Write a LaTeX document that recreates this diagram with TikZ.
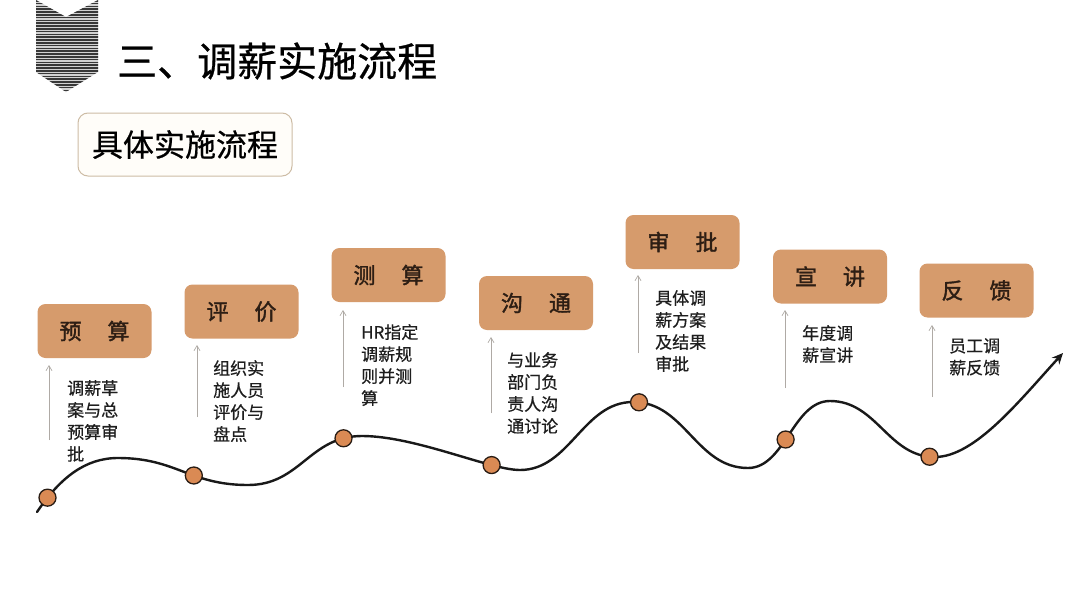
\documentclass[tikz,border=0pt]{standalone}
\usepackage{fontspec}
\setmainfont{Noto Sans CJK SC}
\newfontfamily\semib[FakeBold=1.6]{Noto Sans CJK SC}
\newfontfamily\lightb[FakeBold=0.6]{Noto Sans CJK SC}
\usetikzlibrary{arrows.meta}
\definecolor{boxtan}{RGB}{214,155,108}
\definecolor{dotfill}{RGB}{218,138,84}
\definecolor{dotline}{RGB}{40,28,20}
\definecolor{subline}{RGB}{205,188,165}
\definecolor{subfill}{RGB}{255,253,249}
\definecolor{arrowgray}{RGB}{175,170,165}
\definecolor{txt}{RGB}{30,30,30}
\definecolor{boxtxt}{RGB}{45,30,20}
\tikzset{
  stagebox/.style={fill=boxtan, rounded corners=8pt, minimum width=114pt, minimum height=54pt, inner sep=0pt, text=boxtxt, font=\semib\fontsize{22}{24}\selectfont},
  desc/.style={anchor=north west, inner sep=0pt, align=left, text=txt, font=\lightb\fontsize{17}{22}\selectfont},
  uparrow/.style={draw=arrowgray, line width=0.7pt, -{Straight Barb[length=5pt,width=6pt]}},
  dot/.style={circle, fill=dotfill, draw=dotline, line width=1.3pt, minimum size=17pt, inner sep=0pt},
  curveline/.style={line width=2.4pt, draw=black!90, line cap=round}
}
\newcommand{\gp}{\hspace{26pt}}
\begin{document}
\begin{tikzpicture}[x=1pt,y=-1pt]
\useasboundingbox (0,0) rectangle (1080,608);
\fill[white] (0,0) rectangle (1080,608);
% chevron icon
\begin{scope}
\clip (36,0) -- (66,17) -- (98,0) -- (98,72) -- (66,92) -- (36,72) -- cycle;
\fill[gray!35] (30,0) rectangle (100,95);
\foreach \yy in {0.8,3.6,...,94} {
  \draw[black!78, line width=1.6pt] (30,\yy) -- (100,\yy);
}
\end{scope}
% title
\node[anchor=west, inner sep=0pt, text=black, font=\lightb\fontsize{40}{44}\selectfont] (title) at (117,61) {三、调薪实施流程};
% subtitle box
\node[draw=subline, fill=subfill, line width=1pt, rounded corners=10pt, minimum width=214pt, minimum height=63pt, inner sep=0pt, font=\lightb\fontsize{31}{34}\selectfont, text=black] (sub) at (185,144.5) {具体实施流程};
% stage boxes
\node[stagebox] (b1) at (94.5,331) {预\gp 算};
\node[stagebox] (b2) at (241.5,311.5) {评\gp 价};
\node[stagebox] (b3) at (388.5,275) {测\gp 算};
\node[stagebox] (b4) at (536,303) {沟\gp 通};
\node[stagebox] (b5) at (682.5,242) {审\gp 批};
\node[stagebox] (b6) at (830,276.5) {宣\gp 讲};
\node[stagebox] (b7) at (976.5,290.5) {反\gp 馈};
% arrows
\coordinate (a1s) at (49,440); \coordinate (a1e) at (49,365);
\coordinate (a2s) at (197,417); \coordinate (a2e) at (197,345);
\coordinate (a3s) at (343,387); \coordinate (a3e) at (343,310);
\coordinate (a4s) at (491,413); \coordinate (a4e) at (491,337);
\coordinate (a5s) at (638,353); \coordinate (a5e) at (638,275);
\coordinate (a6s) at (785,388); \coordinate (a6e) at (785,310);
\coordinate (a7s) at (932,397); \coordinate (a7e) at (932,325);
\foreach \i in {1,...,7} { \draw[uparrow] (a\i s) -- (a\i e); }
% descriptions
\node[desc] (t1) at (67,380) {调薪草\\案与总\\预算审\\批};
\node[desc] (t2) at (213,360) {组织实\\施人员\\评价与\\盘点};
\node[desc] (t3) at (361,324) {HR指定\\调薪规\\则并测\\算};
\node[desc] (t4) at (507,352) {与业务\\部门负\\责人沟\\通讨论};
\node[desc] (t5) at (655,290) {具体调\\薪方案\\及结果\\审批};
\node[desc] (t6) at (802,325) {年度调\\薪宣讲};
\node[desc] (t7) at (949,338) {员工调\\薪反馈};
% curve key points
\coordinate (c0) at (37,512);
\coordinate (p1) at (118,458);
\coordinate (m1) at (248,485);
\coordinate (p2) at (362,436);
\coordinate (m2) at (520,470);
\coordinate (p3) at (633,402);
\coordinate (m3) at (748,468);
\coordinate (p4) at (830,401);
\coordinate (m4) at (935,457);
\coordinate (cend) at (1063,353);
\draw[curveline, -{Stealth[length=11pt,width=10pt]}]
  (c0) .. controls (60,478) and (85,458) .. (p1) coordinate[pos=0] (s0)
  (p1) .. controls (176.5,458) and (189.5,485) .. (m1)
  (m1) .. controls (300.6,485) and (309.4,436) .. (p2)
  (p2) .. controls (415.5,436) and (490,470) .. (m2)
  (m2) .. controls (570,470) and (583,402) .. (p3)
  (p3) .. controls (685,402) and (696,468) .. (m3)
  (m3) .. controls (785,468) and (793,401) .. (p4)
  (p4) .. controls (877,401) and (888,457) .. (m4)
  (m4) .. controls (975,457) and (1020,400) .. (cend);
% dots on the curve
\path (c0) .. controls (60,478) and (85,458) .. (p1) coordinate[pos=0.15] (d1);
\path (p1) .. controls (176.5,458) and (189.5,485) .. (m1) coordinate[pos=0.6] (d2);
\path (m1) .. controls (300.6,485) and (309.4,436) .. (p2) coordinate[pos=0.87] (d3);
\path (p2) .. controls (415.5,436) and (490,470) .. (m2) coordinate[pos=0.76] (d4);
\path (p3) .. controls (685,402) and (696,468) .. (m3) coordinate[pos=0.04] (d5);
\path (m3) .. controls (785,468) and (793,401) .. (p4) coordinate[pos=0.45] (d6);
\path (p4) .. controls (877,401) and (888,457) .. (m4) coordinate[pos=0.96] (d7);
\foreach \i in {1,...,7} { \node[dot] (n\i) at (d\i) {}; }
\end{tikzpicture}
\end{document}
